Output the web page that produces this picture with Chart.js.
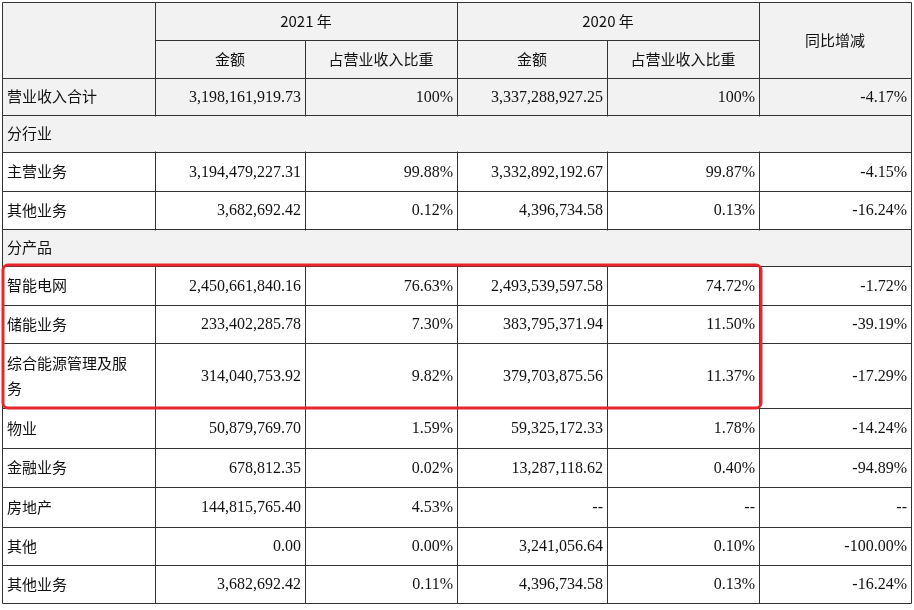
<!DOCTYPE html>
<html>
<head>
<meta charset="utf-8">
<script src="https://cdn.jsdelivr.net/npm/chart.js@4/dist/chart.umd.min.js"></script>
<style>
  html, body { margin: 0; padding: 0; background: #fff; }
</style>
</head>
<body>
<canvas id="tableChart" width="914" height="610"></canvas>
<script>
// table contents
const rowLabels = ['营业收入合计', '分行业', '主营业务', '其他业务', '分产品', '智能电网', '储能业务', '综合能源管理及服务', '物业', '金融业务', '房地产', '其他', '其他业务'];
const amount2021 = ['3,198,161,919.73', '', '3,194,479,227.31', '3,682,692.42', '', '2,450,661,840.16', '233,402,285.78', '314,040,753.92', '50,879,769.70', '678,812.35', '144,815,765.40', '0.00', '3,682,692.42'];
const share2021 = ['100%', '', '99.88%', '0.12%', '', '76.63%', '7.30%', '9.82%', '1.59%', '0.02%', '4.53%', '0.00%', '0.11%'];
const amount2020 = ['3,337,288,927.25', '', '3,332,892,192.67', '4,396,734.58', '', '2,493,539,597.58', '383,795,371.94', '379,703,875.56', '59,325,172.33', '13,287,118.62', '--', '3,241,056.64', '4,396,734.58'];
const share2020 = ['100%', '', '99.87%', '0.13%', '', '74.72%', '11.50%', '11.37%', '1.78%', '0.40%', '--', '0.10%', '0.13%'];
const yoyChange = ['-4.17%', '', '-4.15%', '-16.24%', '', '-1.72%', '-39.19%', '-17.29%', '-14.24%', '-94.89%', '--', '-100.00%', '-16.24%'];

// layout
const colEdges = [2, 155, 305, 457, 607, 759, 911];
const headEdges = [2, 40, 78];
const rowEdges = [78, 115, 152, 191, 229, 266, 305, 343, 408, 448, 487, 527, 565, 603];
const greyRows = [0, 1, 4];
const highlight = { x0: 3, x1: 761, y0: 265, y1: 408 };

const cjk = '"Noto Sans CJK SC", sans-serif';
const serif = '"Liberation Serif", "DejaVu Serif", serif';

const tablePlugin = {
  id: 'tablePlugin',
  afterDraw(chart) {
    const { ctx } = chart;
    const sx = v => chart.scales.x.getPixelForValue(v);
    const sy = v => chart.scales.y.getPixelForValue(v);
    ctx.save();
    // backgrounds
    ctx.fillStyle = '#f2f2f2';
    ctx.fillRect(sx(colEdges[0]), sy(headEdges[0]), sx(colEdges[6]) - sx(colEdges[0]), sy(headEdges[2]) - sy(headEdges[0]));
    greyRows.forEach(r => {
      ctx.fillRect(sx(colEdges[0]), sy(rowEdges[r]), sx(colEdges[6]) - sx(colEdges[0]), sy(rowEdges[r + 1]) - sy(rowEdges[r]));
    });
    // grid
    ctx.strokeStyle = '#333';
    ctx.lineWidth = 1;
    const line = (x0, y0, x1, y1) => {
      ctx.beginPath();
      ctx.moveTo(Math.round(sx(x0)) + 0.5, Math.round(sy(y0)) + 0.5);
      ctx.lineTo(Math.round(sx(x1)) + 0.5, Math.round(sy(y1)) + 0.5);
      ctx.stroke();
    };
    line(colEdges[0], headEdges[0], colEdges[6], headEdges[0]);
    line(colEdges[1], headEdges[1], colEdges[5], headEdges[1]);
    rowEdges.forEach(y => line(colEdges[0], y, colEdges[6], y));
    // verticals
    [0, 1, 3, 5, 6].forEach(i => line(colEdges[i], headEdges[0], colEdges[i], rowEdges[rowEdges.length - 1]));
    [2, 4].forEach(i => line(colEdges[i], headEdges[1], colEdges[i], rowEdges[rowEdges.length - 1]));
    // section rows span the table: clear their inner verticals
    [1, 4].forEach(r => {
      ctx.fillStyle = '#f2f2f2';
      ctx.fillRect(sx(colEdges[0]) + 2, sy(rowEdges[r]) + 1.5, sx(colEdges[6]) - sx(colEdges[0]) - 3, sy(rowEdges[r + 1]) - sy(rowEdges[r]) - 2);
    });

    // header text
    ctx.fillStyle = '#111';
    ctx.textBaseline = 'middle';
    ctx.textAlign = 'center';
    ctx.font = '15px ' + cjk;
    const midY = (a, b) => (sy(a) + sy(b)) / 2;
    const midX = (a, b) => (sx(a) + sx(b)) / 2;
    ctx.fillText('2021 年', midX(colEdges[1], colEdges[3]), midY(headEdges[0], headEdges[1]));
    ctx.fillText('2020 年', midX(colEdges[3], colEdges[5]), midY(headEdges[0], headEdges[1]));
    ctx.fillText('同比增减', midX(colEdges[5], colEdges[6]), midY(headEdges[0], headEdges[2]));
    ['金额', '占营业收入比重', '金额', '占营业收入比重'].forEach((t, i) => {
      ctx.fillText(t, midX(colEdges[i + 1], colEdges[i + 2]), midY(headEdges[1], headEdges[2]));
    });

    // body
    const cols = [amount2021, share2021, amount2020, share2020, yoyChange];
    rowLabels.forEach((label, r) => {
      const cy = midY(rowEdges[r], rowEdges[r + 1]);
      ctx.textAlign = 'left';
      ctx.font = '15px ' + cjk;
      if (label === '综合能源管理及服务') {
        ctx.fillText('综合能源管理及服', sx(colEdges[0]) + 5, cy - 12);
        ctx.fillText('务', sx(colEdges[0]) + 5, cy + 13);
      } else {
        ctx.fillText(label, sx(colEdges[0]) + 5, cy);
      }
      ctx.textAlign = 'right';
      ctx.font = '16px ' + serif;
      cols.forEach((col, c) => {
        if (col[r]) ctx.fillText(col[r], sx(colEdges[c + 1 + 1]) - 4, cy + 1);
      });
    });

    // red highlight box
    ctx.strokeStyle = '#e8262b';
    ctx.lineWidth = 3;
    ctx.beginPath();
    ctx.roundRect(sx(highlight.x0), sy(highlight.y0), sx(highlight.x1) - sx(highlight.x0), sy(highlight.y1) - sy(highlight.y0), 5);
    ctx.stroke();
    ctx.restore();
  }
};

new Chart(document.getElementById('tableChart').getContext('2d'), {
  type: 'scatter',
  data: { datasets: [{ data: [] }] },
  options: {
    responsive: false,
    animation: false,
    layout: { padding: 0 },
    plugins: { legend: { display: false }, tooltip: { enabled: false } },
    scales: {
      x: { type: 'linear', min: 0, max: 914, display: false },
      y: { type: 'linear', min: 0, max: 610, reverse: true, display: false }
    }
  },
  plugins: [tablePlugin]
});
</script>
</body>
</html>
